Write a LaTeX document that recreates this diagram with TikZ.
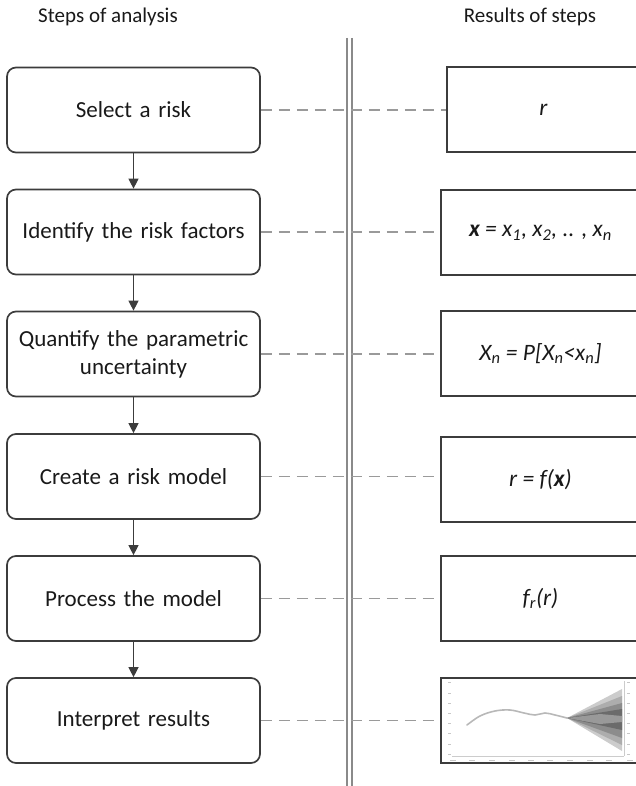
\documentclass[tikz,border=0pt]{standalone}
\usepackage{fontspec}
\setmainfont{Carlito}
\usetikzlibrary{arrows.meta}

\definecolor{boxgray}{HTML}{3C3C3C}
\definecolor{dashgray}{HTML}{9A9A9A}
\definecolor{sepgray}{HTML}{8A8A8A}

\tikzset{
  stepbox/.style={draw=boxgray, line width=1.7pt, rounded corners=9pt,
    minimum width=253pt, minimum height=85pt, align=center, inner sep=0pt,
    text width=245pt, font=\fontsize{23}{28}\selectfont, text=black!90},
  resbox/.style={draw=boxgray, line width=1.7pt, minimum height=85pt,
    inner sep=0pt, font=\fontsize{23.5}{28}\selectfont\itshape, text=black!90},
  heading/.style={font=\fontsize{21}{25}\selectfont, text=black!90},
  flow/.style={draw=boxgray, line width=1.3pt,
    -{Triangle[length=10pt,width=10pt]}},
  link/.style={draw=dashgray, line width=1.5pt, dash pattern=on 11pt off 7pt},
  sepline/.style={draw=sepgray, line width=1.4pt},
  axis/.style={draw=black!20, line width=0.6pt},
  tick/.style={draw=black!22, line width=0.8pt},
}

\begin{document}
\begin{tikzpicture}[x=1pt, y=-1pt]
\useasboundingbox (0,0) rectangle (636,786);
\clip (0,0) rectangle (636,786);

% column headings
\node[heading] (h1) at (108,17) {Steps of analysis};
\node[heading] (h2) at (530,17) {Results of steps};

% separator between the two columns
\draw[sepline] (347,38) -- (347,786);
\draw[sepline] (352,38) -- (352,786);

% steps of the analysis
\node[stepbox] (s1) at (133.5,110)   {Select a risk};
\node[stepbox] (s2) at (133.5,232)   {Identify the risk factors};
\node[stepbox] (s3) at (133.5,354)   {Quantify the parametric\\uncertainty};
\node[stepbox] (s4) at (133.5,476.5) {Create a risk model};
\node[stepbox] (s5) at (133.5,598.5) {Process the model};
\node[stepbox] (s6) at (133.5,720.5) {Interpret results};

% results of each step
\node[resbox, minimum width=193pt] (r1) at (543.5,109.5) {r};
\node[resbox, minimum width=199pt] (r2) at (540.5,232.5)
  {\textbf{x} = x\textsubscript{1}, x\textsubscript{2}, .. , x\textsubscript{n}};
\node[resbox, minimum width=199pt] (r3) at (540.5,353.5)
  {X\textsubscript{n} = P[X\textsubscript{n}<x\textsubscript{n}]};
\node[resbox, minimum width=199pt] (r4) at (540.5,479.5) {r = f(\textbf{x})};
\node[resbox, minimum width=199pt] (r5) at (540.5,598.5) {f\textsubscript{r}(r)};
\node[resbox, minimum width=199pt] (r6) at (540.5,720.5) {};

% flow between steps
\foreach \a/\b in {s1/s2, s2/s3, s3/s4, s4/s5, s5/s6}
  \draw[flow] (\a.south) -- (\b.north);

% each step linked to its result
\foreach \i in {1,...,6}
  \draw[link] (s\i.east) -- (s\i.east -| r\i.west);

% small forecast chart inside the last result
\draw[axis] (452,756) -- (624,756);
\draw[axis] (624,681) -- (624,756);
\foreach \y in {682,693,703,713,723,733,744,754} {
  \draw[tick] (448,\y) -- (451,\y);
  \draw[tick] (627,\y) -- (630,\y);
}
\foreach \x in {453,472,492,512,531,550,570,590,609,630}
  \draw[tick] (\x-3,760) -- (\x+3,760);

\fill[black!20] (567,718) -- (622,689) -- (622,751) -- cycle;
\fill[black!32] (567,718) -- (622,696) -- (622,745) -- cycle;
\fill[black!45] (567,718) -- (622,703) -- (622,738) -- cycle;
\fill[black!58] (567,718) -- (622,709) -- (622,730) -- cycle;
\fill[black!40] (567,718) -- (600,714) -- (622,716) -- (622,722) -- (600,724) -- cycle;

\draw[black!28, line width=1.6pt, line cap=round]
  plot[smooth, tension=0.6] coordinates {(467,725) (480,716) (495,711)
    (510,710) (524,713) (535,715) (545,713) (555,715) (567,718)};
\end{tikzpicture}
\end{document}
